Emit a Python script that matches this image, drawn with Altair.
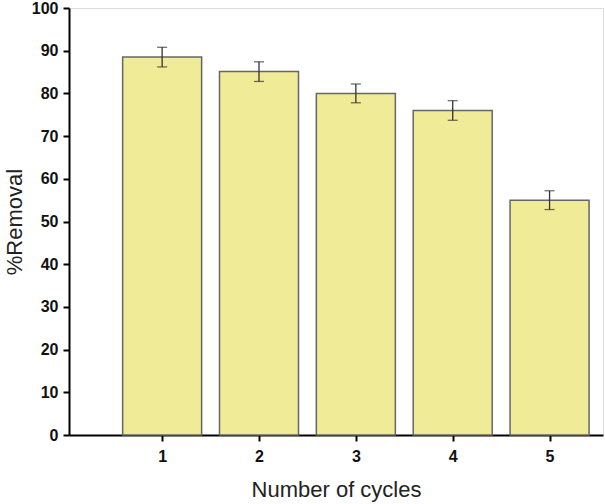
import altair as alt
import pandas as pd

cycles = [1, 2, 3, 4, 5]
removal = [88.5, 85.1, 80.0, 76.0, 55.0]
err = [2.3, 2.3, 2.2, 2.3, 2.2]

df = pd.DataFrame({
    "cycle": cycles,
    "removal": removal,
    "lo": [r - e for r, e in zip(removal, err)],
    "hi": [r + e for r, e in zip(removal, err)],
})

xscale = alt.Scale(domain=[0.09, 5.5], nice=False, zero=False)
yscale = alt.Scale(domain=[0, 100], nice=False)

xaxis = alt.Axis(values=cycles, title="Number of cycles", format="d", grid=False,
                 labelFont="Liberation Sans", labelFontWeight="bold", labelFontSize=16,
                 labelColor="#111", titleFont="Liberation Sans", titleFontSize=22,
                 titleFontWeight="normal", titleColor="#222", titlePadding=15,
                 domainColor="black", domainWidth=2, tickColor="black", tickWidth=2,
                 tickSize=6, labelPadding=7)
yaxis = alt.Axis(values=list(range(0, 101, 10)), title="%Removal", grid=False,
                 labelFont="Liberation Sans", labelFontWeight="bold", labelFontSize=16,
                 labelColor="#111", titleFont="Liberation Sans", titleFontSize=22,
                 titleFontWeight="normal", titleColor="#222", titlePadding=5,
                 domainColor="black", domainWidth=2, tickColor="black", tickWidth=2,
                 tickSize=6, labelPadding=5)

base = alt.Chart(df)

bars = base.mark_bar(color="#F0EB96", stroke="#666666", strokeWidth=1.5, width=79).encode(
    x=alt.X("cycle:Q", scale=xscale, axis=xaxis),
    y=alt.Y("removal:Q", scale=yscale, axis=yaxis),
)

rules = base.mark_rule(color="#333333", strokeWidth=1.3).encode(
    x="cycle:Q", y="lo:Q", y2="hi:Q"
)
cap_lo = base.mark_tick(color="#333333", orient="horizontal", size=10, thickness=1.3).encode(
    x="cycle:Q", y="lo:Q"
)
cap_hi = base.mark_tick(color="#333333", orient="horizontal", size=10, thickness=1.3).encode(
    x="cycle:Q", y="hi:Q"
)

chart = alt.layer(bars, rules, cap_lo, cap_hi).properties(
    width=534, height=427,
    autosize=alt.AutoSizeParams(type="none"),
    padding={"left": 69, "top": 8, "right": 2, "bottom": 69},
).configure_view(stroke="black", strokeWidth=2).configure(background="white")

chart.save("out.html", embed_options={"renderer": "svg", "actions": False})
